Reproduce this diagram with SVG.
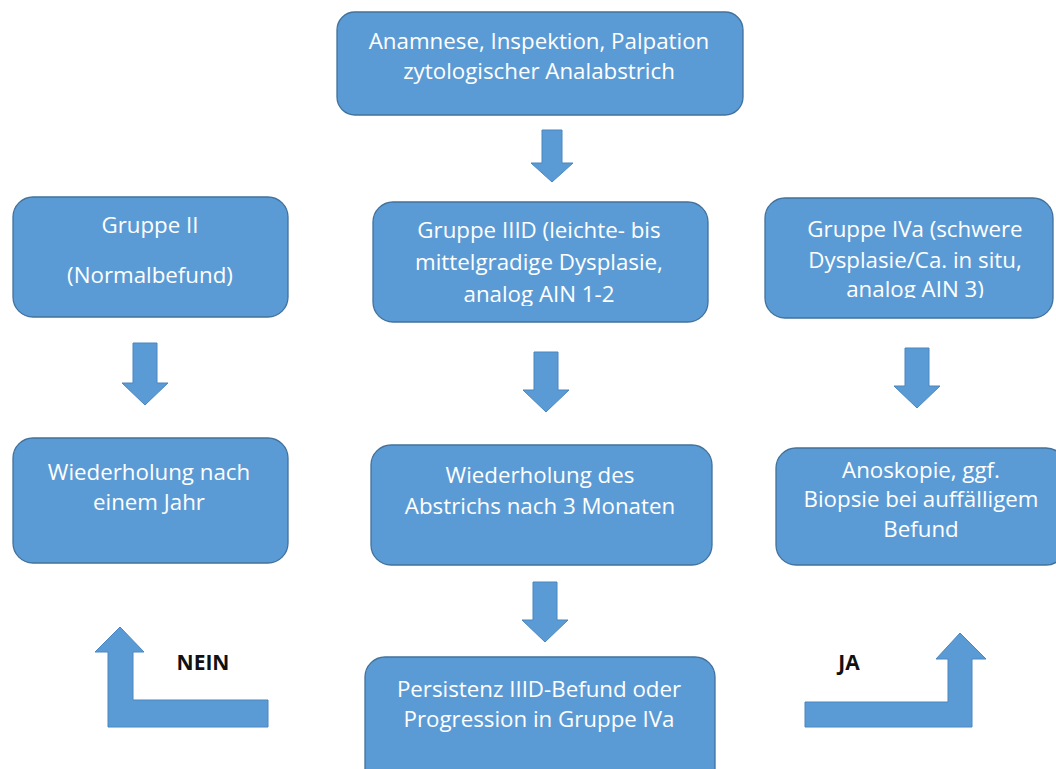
<svg xmlns="http://www.w3.org/2000/svg" width="1056" height="769" viewBox="0 0 1056 769">
<style>
.box{fill:#5B9BD5;stroke:#41719C;stroke-width:1.3}
.arr{fill:#5B9BD5;stroke:#4A86BF;stroke-width:1}
.t{font-family:"Open Sans","Liberation Sans",sans-serif;font-size:22.3px;fill:#FFFFFF;text-anchor:middle}
.lbl{font-family:"Open Sans","Liberation Sans",sans-serif;font-size:21px;font-weight:bold;fill:#111111;text-anchor:middle}
</style>
<defs>
<clipPath id="clipC"><rect x="373" y="202" width="335" height="104"/></clipPath>
<clipPath id="clipR"><rect x="765" y="198" width="288" height="100"/></clipPath>
</defs>
<rect width="1056" height="769" fill="#FFFFFF"/>
<g id="n1"><rect class="box" x="337" y="12" width="406" height="103" rx="18"/>
<text class="t" x="539" y="49">Anamnese, Inspektion, Palpation</text>
<text class="t" x="539" y="79">zytologischer Analabstrich</text></g>
<g id="n2"><rect class="box" x="13" y="197" width="275" height="120" rx="20"/>
<text class="t" x="150" y="233">Gruppe II</text>
<text class="t" x="150" y="283">(Normalbefund)</text></g>
<g id="n3"><rect class="box" x="373" y="202" width="335" height="120" rx="20"/>
<g clip-path="url(#clipC)">
<text class="t" x="539" y="238">Gruppe IIID (leichte- bis</text>
<text class="t" x="539" y="270">mittelgradige Dysplasie,</text>
<text class="t" x="539" y="302">analog AIN 1-2</text></g></g>
<g id="n4"><rect class="box" x="765" y="198" width="288" height="120" rx="20"/>
<g clip-path="url(#clipR)">
<text class="t" x="915" y="237">Gruppe IVa (schwere</text>
<text class="t" x="915" y="268">Dysplasie/Ca. in situ,</text>
<text class="t" x="915" y="297">analog AIN 3)</text></g></g>
<g id="n5"><rect class="box" x="13" y="438" width="275" height="125" rx="20"/>
<text class="t" x="149" y="480">Wiederholung nach</text>
<text class="t" x="149" y="510">einem Jahr</text></g>
<g id="n6"><rect class="box" x="371" y="445" width="341" height="120" rx="20"/>
<text class="t" x="540" y="483">Wiederholung des</text>
<text class="t" x="540" y="514">Abstrichs nach 3 Monaten</text></g>
<g id="n7"><rect class="box" x="776" y="448" width="290" height="117" rx="20"/>
<text class="t" x="921" y="478">Anoskopie, ggf.</text>
<text class="t" x="921" y="507">Biopsie bei auffälligem</text>
<text class="t" x="921" y="537">Befund</text></g>
<g id="n8"><rect class="box" x="365" y="657" width="350" height="140" rx="20"/>
<text class="t" x="539" y="697">Persistenz IIID-Befund oder</text>
<text class="t" x="539" y="727">Progression in Gruppe IVa</text></g>
<g id="connectors">
<polygon class="arr" points="542,130 562,130 562,163 573,163 552,182 531,163 542,163"/>
<polygon class="arr" points="133,343 157,343 157,383 168,383 145,405 122,383 133,383"/>
<polygon class="arr" points="534,352 558,352 558,390 569,390 546,412 523,390 534,390"/>
<polygon class="arr" points="905,348 929,348 929,386 940,386 917,408 894,386 905,386"/>
<polygon class="arr" points="533,582 557,582 557,620 568,620 545,642 522,620 533,620"/>
<polygon class="arr" points="120,627 144,652 133,652 133,700 268,700 268,727 108,727 108,652 95,652"/>
<polygon class="arr" points="805,702 948,702 948,659 936,659 960,633 986,659 972,659 972,727 805,727"/>
<text class="lbl" x="203" y="670">NEIN</text>
<text class="lbl" x="849" y="670">JA</text>
</g>
</svg>
